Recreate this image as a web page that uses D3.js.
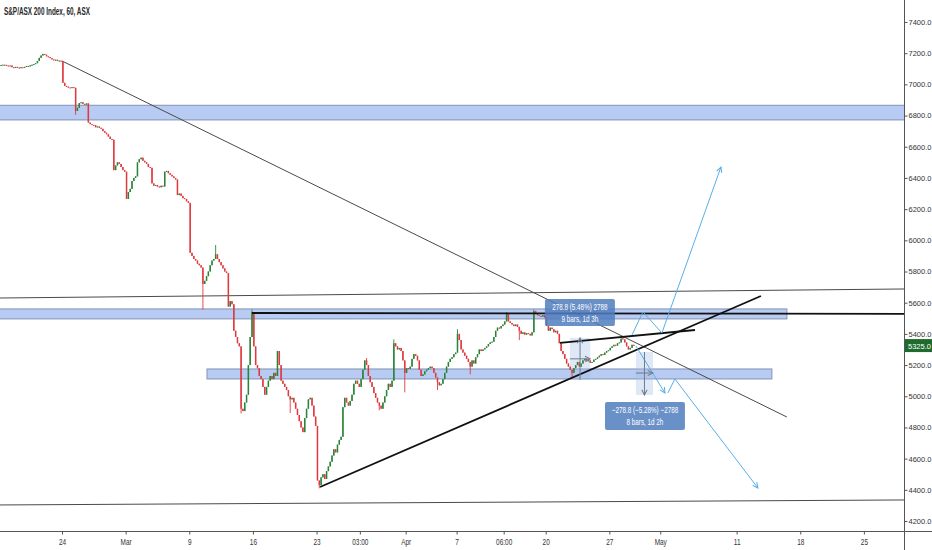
<!DOCTYPE html>
<html>
<head>
<meta charset="utf-8">
<title>S&P/ASX 200 Index, 60, ASX</title>
<script src="https://d3js.org/d3.v7.min.js"></script>
<style>
  body { margin: 0; background: #fff; }
  svg text { font-family: "Liberation Sans", Arial, sans-serif; }
</style>
</head>
<body>
<div id="chart"></div>
<script>
var width = 932, height = 550;
var plotW = 904, plotH = 531;
var barsPerDay = 7;

// hourly closes, 7 bars per trading day (17 Feb .. 28 Apr 2020)
var dayCloses = [
  [7122,7124,7126,7125,7120,7118,7121],
  [7110,7106,7112,7108,7104,7110,7108],
  [7112,7118,7115,7122,7126,7130,7136],
  [7150,7170,7185,7195,7190,7180,7175],
  [7168,7160,7155,7158,7150,7152,7148],
  [7010,6990,6985,6980,6978,6982,6978],
  [6830,6850,6880,6885,6875,6870,6878],
  [6755,6745,6740,6738,6725,6730,6722],
  [6715,6700,6690,6680,6665,6650,6645],
  [6450,6480,6500,6490,6470,6450,6440],
  [6265,6310,6330,6380,6400,6410,6500],
  [6520,6530,6510,6500,6490,6470,6465],
  [6365,6350,6355,6345,6340,6350,6345],
  [6440,6445,6430,6420,6410,6400,6390],
  [6290,6300,6285,6270,6265,6250,6240],
  [5920,5900,5880,5870,5850,5840,5825],
  [5720,5740,5770,5800,5840,5870,5880],
  [5910,5880,5860,5840,5820,5800,5790],
  [5575,5610,5590,5420,5380,5340,5320],
  [4920,4905,4960,5010,5200,5380,5540],
  [5320,5200,5180,5130,5110,5060,5010],
  [5060,5100,5130,5110,5150,5130,5290],
  [5200,5100,5080,5060,5040,5000,4980],
  [4990,4960,4920,4880,4840,4800,4770],
  [4860,4920,4980,4990,4940,4870,4810],
  [4460,4430,4480,4500,4470,4520,4550],
  [4580,4620,4660,4640,4690,4720,4740],
  [4930,4990,4960,4940,4970,5010,5080],
  [5100,5080,5060,5110,5170,5230,5200],
  [5130,5090,5060,5020,4990,4960,4940],
  [4920,4960,5000,5040,5080,5060,5100],
  [5340,5320,5300,5310,5290,5230,5150],
  [5180,5175,5190,5240,5270,5260,5230],
  [5170,5130,5140,5160,5170,5180,5190],
  [5180,5150,5120,5090,5070,5080,5110],
  [5150,5190,5220,5240,5250,5270,5280],
  [5400,5360,5300,5280,5260,5240,5220],
  [5190,5230,5210,5250,5270,5300,5290],
  [5300,5310,5320,5335,5345,5350,5380],
  [5420,5440,5435,5450,5460,5480,5530],
  [5480,5470,5460,5450,5460,5445,5420],
  [5400,5410,5395,5405,5400,5390,5410],
  [5545,5530,5520,5515,5510,5520,5505],
  [5450,5420,5440,5430,5410,5420,5400],
  [5340,5290,5270,5240,5210,5190,5170],
  [5150,5180,5200,5220,5190,5210,5230],
  [5240,5225,5230,5215,5220,5235,5240],
  [5250,5260,5270,5265,5280,5290,5295],
  [5310,5320,5330,5325,5340,5345,5370],
  [5365,5345,5320,5300,5310,5330,5325]
];
var firstOpen = 7120;
// [day, bar, price] for the visible wicks
var wickHighs = [[17,0,5970],[19,6,5555],[28,6,5245],[31,0,5365],[36,0,5430],[39,6,5540],[42,0,5555],[49,0,5378]];
var wickLows = [[6,0,6805],[16,0,5555],[19,0,4890],[22,6,4893],[25,1,4410],[29,6,4910],[31,6,5025],[34,3,5040],[37,0,5140],[40,6,5360],[45,0,5115]];
var lastPrice = 5325.0;

var priceTicks = [4200,4400,4600,4800,5000,5200,5400,5600,5800,6000,6200,6400,6600,6800,7000,7200,7400];
var dateTicks = [
  {day: 5, label: "24"}, {day: 10, label: "Mar"}, {day: 15, label: "9"}, {day: 20, label: "16"},
  {day: 25, label: "23"}, {day: 28.4, label: "03:00"}, {day: 32, label: "Apr"}, {day: 36, label: "7"},
  {day: 39.7, label: "06:00"}, {day: 43, label: "20"}, {day: 48, label: "27"}, {day: 52, label: "May"},
  {day: 58, label: "11"}, {day: 63, label: "18"}, {day: 68, label: "25"}
];

// drawings in (trading day, price)
var zones = [
  {d0: 0, d1: 71.2, p0: 6772, p1: 6866},
  {d0: 0, d1: 61.95, p0: 5496, p1: 5560},
  {d0: 16.39, d1: 60.77, p0: 5111, p1: 5175}
];
var thinLines = [
  [[5.0, 7150], [61.95, 4867]],
  [[0, 5630], [71.2, 5688]],
  [[0, 4303], [71.2, 4335]]
];
var thickLines = [
  [[19.93, 5534], [71.2, 5528]],
  [[25.27, 4418], [59.91, 5643]],
  [[44.12, 5342], [54.73, 5425]]
];
var blueArrows = [
  [[49.78, 5393], [50.64, 5541], [52.13, 5406], [56.77, 6470]],
  [[50.09, 5322], [52.37, 5021]],
  [[52.6, 5021], [53.15, 5111], [59.67, 4412]]
];
var measures = [
  {d0: 44.9, d1: 46.5, pFrom: 5105, pTo: 5374, pMid: 5240,
   box: {d0: 42.94, d1: 48.44, p0: 5451, p1: 5624},
   lines: ["278.8 (5.48%) 2788", "9 bars, 1d 3h"]},
  {d0: 50.09, d1: 51.43, pFrom: 5284, pTo: 5008, pMid: 5149,
   box: {d0: 47.66, d1: 53.94, p0: 4784, p1: 4963},
   lines: ["\u2212278.8 (\u22125.28%) \u22122788", "8 bars, 1d 2h"]}
];

var x = d3.scaleLinear().domain([0, 71.15]).range([-1.65, plotW]);
var y = d3.scaleLinear().domain([4136, 7541]).range([plotH, 0]);

// the chart font is a narrow one: squeeze text to match
function condense(sel, k) {
  sel.each(function() {
    var w = this.getComputedTextLength();
    d3.select(this).attr("textLength", w * k).attr("lengthAdjust", "spacingAndGlyphs");
  });
}

var svg = d3.select("#chart").append("svg")
    .attr("width", width)
    .attr("height", height);

var defs = svg.append("defs");
defs.append("clipPath").attr("id", "plotClip")
  .append("rect").attr("x", 0).attr("y", 0).attr("width", plotW).attr("height", plotH);
function addMarker(id, color) {
  defs.append("marker")
      .attr("id", id)
      .attr("viewBox", "0 0 8 8")
      .attr("refX", 7).attr("refY", 4)
      .attr("markerWidth", 7).attr("markerHeight", 7)
      .attr("markerUnits", "userSpaceOnUse")
      .attr("orient", "auto")
    .append("path")
      .attr("d", "M1,1 L7,4 L1,7")
      .attr("fill", "none")
      .attr("stroke", color)
      .attr("stroke-width", 1.2);
}
addMarker("arrowBlue", "#5aaee8");
addMarker("arrowGrey", "#6f7b8c");

var plot = svg.append("g").attr("clip-path", "url(#plotClip)");

// candles
var candles = [];
var prev = firstOpen;
dayCloses.forEach(function(day, di) {
  day.forEach(function(c, bi) {
    candles.push({day: di, bar: bi, o: prev, c: c, h: Math.max(prev, c), l: Math.min(prev, c)});
    prev = c;
  });
});
wickHighs.forEach(function(w) { candles[w[0] * barsPerDay + w[1]].h = w[2]; });
wickLows.forEach(function(w) { candles[w[0] * barsPerDay + w[1]].l = w[2]; });

function barX(d) { return x(d.day + (d.bar + 0.5) / barsPerDay); }
var step = x(1 / barsPerDay) - x(0);
var bw = Math.max(1, step * 0.82);
var upCol = "#2b8339", downCol = "#df3a3e";

// zones
plot.selectAll("rect.zone")
  .data(zones)
  .enter().append("rect")
    .attr("class", "zone")
    .attr("x", function(d) { return x(d.d0); })
    .attr("width", function(d) { return x(d.d1) - x(d.d0); })
    .attr("y", function(d) { return y(d.p1); })
    .attr("height", function(d) { return y(d.p0) - y(d.p1); })
    .attr("fill", "#b8cbf2")
    .attr("stroke", "#8193b6")
    .attr("stroke-width", 1);

var line = d3.line().x(function(p) { return x(p[0]); }).y(function(p) { return y(p[1]); });

plot.selectAll("path.thin")
  .data(thinLines)
  .enter().append("path")
    .attr("class", "thin")
    .attr("d", line)
    .attr("fill", "none")
    .attr("stroke", "#4a4a4a")
    .attr("stroke-width", 1);

// measure shading
plot.selectAll("rect.mshade")
  .data(measures)
  .enter().append("rect")
    .attr("class", "mshade")
    .attr("x", function(d) { return x(d.d0); })
    .attr("width", function(d) { return x(d.d1) - x(d.d0); })
    .attr("y", function(d) { return y(Math.max(d.pFrom, d.pTo)); })
    .attr("height", function(d) { return Math.abs(y(d.pFrom) - y(d.pTo)); })
    .attr("fill", "rgba(160,190,230,0.35)");

// candles
var cg = plot.append("g");
cg.selectAll("line.wick")
  .data(candles)
  .enter().append("line")
    .attr("class", "wick")
    .attr("x1", barX).attr("x2", barX)
    .attr("y1", function(d) { return y(d.h); })
    .attr("y2", function(d) { return y(d.l); })
    .attr("stroke", function(d) { return d.c >= d.o ? upCol : downCol; })
    .attr("stroke-width", 0.9);
cg.selectAll("rect.body")
  .data(candles)
  .enter().append("rect")
    .attr("class", "body")
    .attr("x", function(d) { return barX(d) - bw / 2; })
    .attr("width", bw)
    .attr("y", function(d) { return y(Math.max(d.o, d.c)); })
    .attr("height", function(d) { return Math.max(1, Math.abs(y(d.o) - y(d.c))); })
    .attr("fill", function(d) { return d.c >= d.o ? upCol : downCol; });

plot.selectAll("path.thick")
  .data(thickLines)
  .enter().append("path")
    .attr("class", "thick")
    .attr("d", line)
    .attr("fill", "none")
    .attr("stroke", "#111")
    .attr("stroke-width", 1.8);

plot.selectAll("path.blue")
  .data(blueArrows)
  .enter().append("path")
    .attr("class", "blue")
    .attr("d", line)
    .attr("fill", "none")
    .attr("stroke", "#5aaee8")
    .attr("stroke-width", 1)
    .attr("marker-end", "url(#arrowBlue)");

// measure arrows and labels
measures.forEach(function(m) {
  var mx = x((m.d0 + m.d1) / 2);
  plot.append("line")
      .attr("x1", mx).attr("x2", mx)
      .attr("y1", y(m.pFrom)).attr("y2", y(m.pTo))
      .attr("stroke", "#6f7b8c").attr("stroke-width", 1)
      .attr("marker-end", "url(#arrowGrey)");
  plot.append("line")
      .attr("x1", x(m.d0)).attr("x2", x(m.d1))
      .attr("y1", y(m.pMid)).attr("y2", y(m.pMid))
      .attr("stroke", "#6f7b8c").attr("stroke-width", 1)
      .attr("marker-end", "url(#arrowGrey)");
  var bx0 = x(m.box.d0), bx1 = x(m.box.d1), by0 = y(m.box.p1), by1 = y(m.box.p0);
  plot.append("rect")
      .attr("x", bx0).attr("y", by0)
      .attr("width", bx1 - bx0).attr("height", by1 - by0)
      .attr("rx", 2)
      .attr("fill", "rgba(80,125,190,0.85)");
  m.lines.forEach(function(t, i) {
    plot.append("text")
        .attr("class", "mtext")
        .attr("x", (bx0 + bx1) / 2)
        .attr("y", by0 + 11 + i * 12)
        .attr("text-anchor", "middle")
        .attr("font-size", 9)
        .attr("fill", "#fff")
        .text(t);
  });
});
condense(plot.selectAll("text.mtext"), 0.7);

// frame
svg.append("line").attr("x1", plotW + 0.5).attr("x2", plotW + 0.5).attr("y1", 0).attr("y2", height)
    .attr("stroke", "#555").attr("stroke-width", 1);
svg.append("line").attr("x1", 0).attr("x2", width).attr("y1", plotH + 0.5).attr("y2", plotH + 0.5)
    .attr("stroke", "#555").attr("stroke-width", 1);

// axes
var yAxis = svg.append("g")
    .attr("transform", "translate(" + (plotW + 0.5) + ",0)")
    .call(d3.axisRight(y).tickValues(priceTicks).tickSize(3).tickPadding(1).tickFormat(d3.format(".1f")));
yAxis.select(".domain").remove();
yAxis.selectAll("line").attr("stroke", "#555");
yAxis.selectAll("text").attr("font-size", 7.5).attr("fill", "#333")
    .style("font-family", "'Liberation Sans', Arial, sans-serif");

var labelByDay = {};
dateTicks.forEach(function(t) { labelByDay[t.day] = t.label; });
var xAxis = svg.append("g")
    .attr("transform", "translate(0," + (plotH + 0.5) + ")")
    .call(d3.axisBottom(x).tickValues(dateTicks.map(function(t) { return t.day; }))
      .tickSize(3).tickPadding(4).tickFormat(function(d) { return labelByDay[d]; }));
xAxis.select(".domain").remove();
xAxis.selectAll("line").attr("stroke", "#555");
xAxis.selectAll("text").attr("font-size", 8.5).attr("fill", "#333")
    .style("font-family", "'Liberation Sans', Arial, sans-serif");
condense(xAxis.selectAll("text"), 0.76);

// last price tag
svg.append("rect")
    .attr("x", plotW + 1).attr("y", y(lastPrice) - 6.5)
    .attr("width", width - plotW - 1).attr("height", 13)
    .attr("fill", "#1f6b2d");
svg.append("text")
    .attr("x", plotW + 4).attr("y", y(lastPrice) + 3)
    .attr("font-size", 7.5).attr("fill", "#fff")
    .text(d3.format(".1f")(lastPrice));

// title
var title = svg.append("text")
    .attr("x", 4).attr("y", 14.5)
    .attr("font-size", 10).attr("font-weight", "bold").attr("fill", "#2a2a2a")
    .text("S&P/ASX 200 Index, 60, ASX");
title.attr("textLength", 86).attr("lengthAdjust", "spacingAndGlyphs");
</script>
</body>
</html>
